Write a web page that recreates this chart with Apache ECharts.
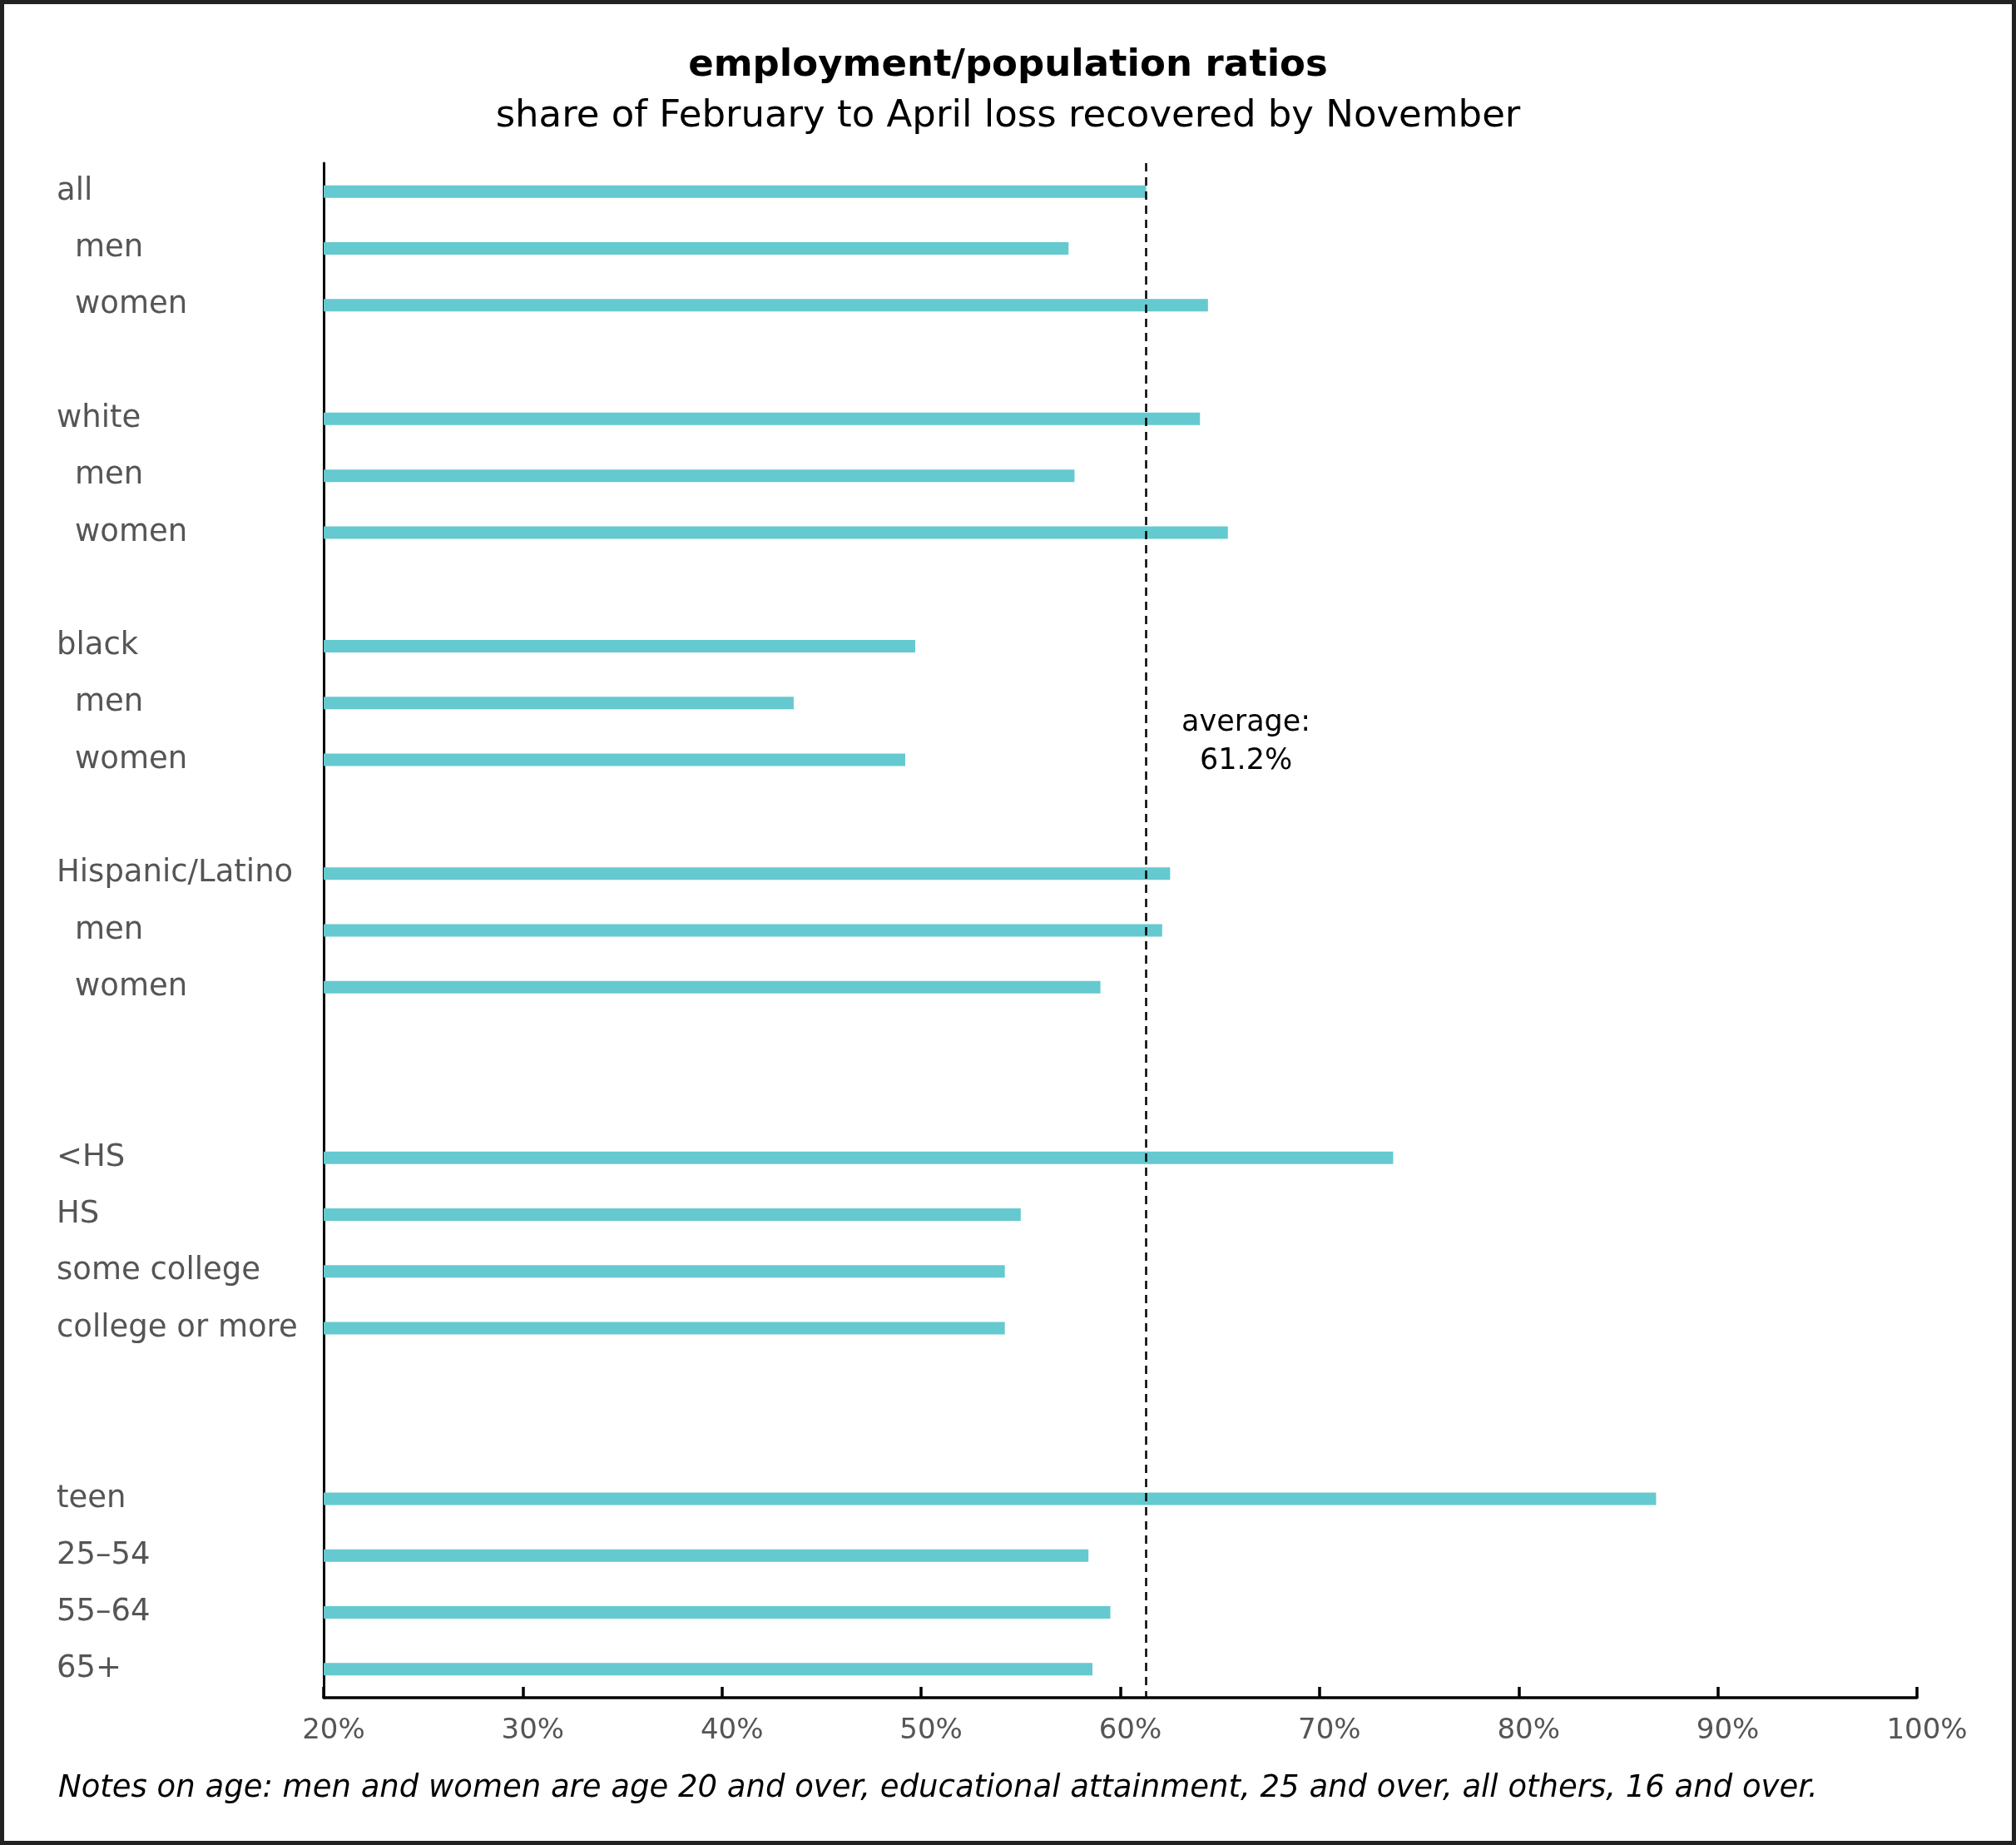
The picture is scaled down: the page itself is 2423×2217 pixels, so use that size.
<!DOCTYPE html>
<html>
<head>
<meta charset="utf-8">
<script src="https://cdn.jsdelivr.net/npm/echarts@6/dist/echarts.min.js"></script>
<style>
html, body { margin: 0; padding: 0; background: #fff; }
#chart { width: 2423px; height: 2217px; }
</style>
</head>
<body>
<div id="chart"></div>
<script>
// Row labels (blank strings are spacer rows between groups)
const categories = [
  'all', 'men', 'women', '',
  'white', 'men', 'women', '',
  'black', 'men', 'women', '',
  'Hispanic/Latino', 'men', 'women', '', '',
  '<HS', 'HS', 'some college', 'college or more', '', '',
  'teen', '25–54', '55–64', '65+'
];
// whether the label is indented (sub-item)
const indented = [
  false, true, true, false,
  false, true, true, false,
  false, true, true, false,
  false, true, true, false, false,
  false, false, false, false, false, false,
  false, false, false, false
];
// share of February-to-April loss recovered by November (%)
const values = [
  61.3, 57.4, 64.4, null,
  64.0, 57.7, 65.4, null,
  49.7, 43.6, 49.2, null,
  62.5, 62.1, 59.0, null, null,
  73.7, 55.0, 54.2, 54.2, null, null,
  86.9, 58.4, 59.5, 58.6
];
const averageValue = 61.3;
const averageText = 'average:\n61.2%';
const xTicks = { min: 20, max: 100, interval: 10 };

const FONT = '"DejaVu Sans", "Open Sans", sans-serif';
const chart = echarts.init(document.getElementById('chart'), null, { renderer: 'canvas' });

chart.setOption({
  animation: false,
  backgroundColor: '#ffffff',
  title: [
    {
      text: 'employment/population ratios',
      subtext: 'share of February to April loss recovered by November',
      left: 'center',
      top: 57,
      padding: 0,
      itemGap: 16,
      textStyle: { fontFamily: FONT, fontSize: 45, fontWeight: 'bold', color: '#000' },
      subtextStyle: { fontFamily: FONT, fontSize: 45, fontWeight: 'normal', color: '#000' }
    },
    {
      text: 'Notes on age: men and women are age 20 and over, educational attainment, 25 and over, all others, 16 and over.',
      left: 70,
      top: 2131,
      padding: 0,
      textStyle: { fontFamily: FONT, fontSize: 37, fontStyle: 'italic', fontWeight: 'normal', color: '#000' }
    }
  ],
  graphic: [
    {
      type: 'rect',
      shape: { x: 2.5, y: 2.5, width: 2418, height: 2212 },
      style: { fill: 'none', stroke: '#222', lineWidth: 5 },
      silent: true
    }
  ],
  grid: { left: 389, right: 119, top: 196, bottom: 177, containLabel: false },
  xAxis: {
    type: 'value',
    min: xTicks.min,
    max: xTicks.max,
    interval: xTicks.interval,
    axisLine: { show: true, lineStyle: { color: '#000', width: 3.5 } },
    axisTick: { show: true, inside: true, length: 13, lineStyle: { color: '#000', width: 3.5 } },
    splitLine: { show: false },
    axisLabel: {
      formatter: '{value}%',
      fontFamily: FONT,
      fontSize: 34,
      color: '#555',
      margin: 23,
      padding: [0, 0, 0, 24]
    }
  },
  yAxis: {
    type: 'category',
    data: categories,
    inverse: true,
    axisLine: { show: true, lineStyle: { color: '#000', width: 3 } },
    axisTick: { show: false },
    splitLine: { show: false },
    axisLabel: {
      interval: 0,
      align: 'left',
      margin: 321,
      fontFamily: FONT,
      fontSize: 37,
      color: '#555',
      formatter: function (value, index) {
        if (!value) return '';
        return indented[index] ? '{sub|' + value + '}' : value;
      },
      rich: {
        sub: { fontFamily: FONT, fontSize: 37, color: '#555', padding: [0, 0, 0, 22] }
      }
    }
  },
  series: [
    {
      type: 'bar',
      data: values,
      barWidth: 15,
      itemStyle: { color: '#65c9d0' },
      silent: true,
      markLine: {
        silent: true,
        symbol: ['none', 'none'],
        label: { show: false },
        lineStyle: { color: '#000', width: 2.5, type: [10, 7] },
        data: [{ xAxis: averageValue }]
      },
      markPoint: {
        silent: true,
        symbol: 'circle',
        symbolSize: 0,
        data: [{ coord: [averageValue, 10] }],
        label: {
          show: true,
          position: 'inside',
          offset: [120, -21],
          formatter: averageText,
          align: 'center',
          fontFamily: FONT,
          fontSize: 35,
          lineHeight: 46,
          color: '#000'
        }
      }
    }
  ]
});
</script>
</body>
</html>
